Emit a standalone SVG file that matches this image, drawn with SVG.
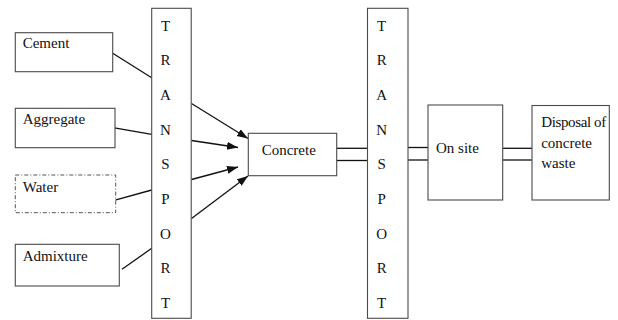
<svg xmlns="http://www.w3.org/2000/svg" width="618" height="320" viewBox="0 0 618 320">
<defs>
<style>
.box{fill:#fff;stroke:#4a4a4a;stroke-width:1.1}
.dash{fill:#fff;stroke:#555;stroke-width:1;stroke-dasharray:4 2 1 2}
text{font-family:'Liberation Serif',Tinos,'Times New Roman',Times,serif;font-size:15px;fill:#111}
.c{stroke:#111;stroke-width:1.3;fill:none}
.a{stroke:#111;stroke-width:1.3;fill:none;marker-end:url(#ah)}
</style>
<marker id="ah" markerUnits="userSpaceOnUse" markerWidth="12" markerHeight="10" refX="11" refY="4" orient="auto">
<path d="M0,0 L11,4 L0,8 Z" fill="#111"/>
</marker>
</defs>
<rect width="618" height="320" fill="#fff"/>
<g id="connectors">
<line class="c" x1="112.7" y1="53.3" x2="151.7" y2="77.7"/>
<line class="c" x1="113" y1="127.7" x2="151.7" y2="134.3"/>
<line class="c" x1="113.3" y1="200.7" x2="151.7" y2="190"/>
<line class="c" x1="122" y1="269.3" x2="151.7" y2="248.3"/>
<line class="a" x1="191.5" y1="103.5" x2="248" y2="138.5"/>
<line class="a" x1="191.5" y1="140.5" x2="238" y2="147.5"/>
<line class="a" x1="191.5" y1="179.5" x2="238" y2="167"/>
<line class="a" x1="191.5" y1="218.5" x2="248" y2="176"/>
<line class="c" x1="336.7" y1="148.3" x2="367.5" y2="148.3"/>
<line class="c" x1="336.7" y1="160.5" x2="367.5" y2="160.5"/>
<line class="c" x1="408" y1="147.5" x2="428" y2="147.5"/>
<line class="c" x1="408" y1="160" x2="428" y2="160"/>
<line class="c" x1="502.7" y1="148.3" x2="532" y2="148.3"/>
<line class="c" x1="502.7" y1="160" x2="532" y2="160"/>
</g>
<g id="cement"><rect class="box" x="15.3" y="32.7" width="97.4" height="39"/><text x="22.7" y="48.3">Cement</text></g>
<g id="aggregate"><rect class="box" x="15.3" y="108.3" width="99.7" height="39.4"/><text x="22.7" y="124">Aggregate</text></g>
<g id="water"><rect class="dash" x="15.3" y="175" width="100.4" height="37.7"/><text x="22.7" y="191.7">Water</text></g>
<g id="admixture"><rect class="box" x="15.3" y="244.3" width="104" height="41.7"/><text x="22.7" y="260.7">Admixture</text></g>
<g id="transport1" text-anchor="middle"><rect class="box" x="151.7" y="8.3" width="39.5" height="310"/>
<text x="165.5" y="30.5">T</text>
<text x="165.5" y="65.2">R</text>
<text x="165.5" y="99.9">A</text>
<text x="165.5" y="134.6">N</text>
<text x="165.5" y="169.3">S</text>
<text x="165.5" y="204">P</text>
<text x="165.5" y="238.7">O</text>
<text x="165.5" y="273.4">R</text>
<text x="165.5" y="308">T</text>
</g>
<g id="concrete"><rect class="box" x="248.3" y="133.3" width="88.4" height="42.4"/><text x="261.7" y="155">Concrete</text></g>
<g id="transport2" text-anchor="middle"><rect class="box" x="367.5" y="8.3" width="40.5" height="310"/>
<text x="381.7" y="30.5">T</text>
<text x="381.7" y="65.2">R</text>
<text x="381.7" y="99.9">A</text>
<text x="381.7" y="134.6">N</text>
<text x="381.7" y="169.3">S</text>
<text x="381.7" y="204">P</text>
<text x="381.7" y="238.7">O</text>
<text x="381.7" y="273.4">R</text>
<text x="381.7" y="308">T</text>
</g>
<g id="onsite"><rect class="box" x="428" y="105" width="74.7" height="95"/><text x="436" y="153.3">On site</text></g>
<g id="disposal"><rect class="box" x="532" y="105.5" width="77.3" height="94.5"/>
<text x="541.2" y="126.7" textLength="65" lengthAdjust="spacing">Disposal of</text>
<text x="541.2" y="147.5">concrete</text>
<text x="541.2" y="168.3">waste</text>
</g>
</svg>
